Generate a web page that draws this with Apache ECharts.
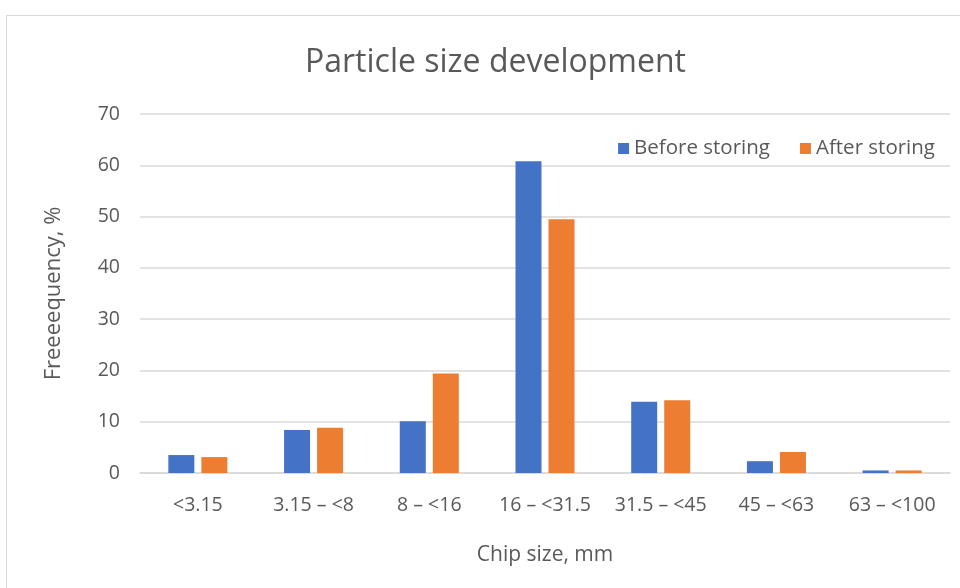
<!DOCTYPE html>
<html><head><meta charset="utf-8">
<script src="https://cdn.jsdelivr.net/npm/echarts@6/dist/echarts.min.js"></script>
<style>html,body{margin:0;padding:0;background:#fff}#c{width:960px;height:588px}</style>
</head><body><div id="c"></div>
<script>
var categories = ['<3.15', '3.15 – <8', '8 – <16', '16 – <31.5', '31.5 – <45', '45 – <63', '63 – <100'];
var beforeStoring = [3.5, 8.4, 10.1, 60.8, 13.9, 2.3, 0.5];
var afterStoring = [3.1, 8.8, 19.4, 49.5, 14.2, 4.1, 0.5];
var seriesNames = ['Before storing', 'After storing'];
var yTicks = {min: 0, max: 70, interval: 10};

var font = 'Open Sans';
var chart = echarts.init(document.getElementById('c'));
chart.setOption({
  animation: false,
  textStyle: {fontFamily: font},
  graphic: [{type: 'rect', shape: {x: 6.5, y: 15.5, width: 1000, height: 700}, style: {fill: 'none', stroke: '#d9d9d9', lineWidth: 1}, z: -1}],
  title: {text: 'Particle size development', left: 300, top: 42,
    textStyle: {fontFamily: font, fontSize: 32, fontWeight: 'normal', color: '#595959'}},
  legend: {data: seriesNames, right: 20, top: 133, itemWidth: 11, itemHeight: 11, itemGap: 30,
    icon: 'rect', textStyle: {fontFamily: font, fontSize: 20.5, color: '#595959'}},
  grid: {left: 140, right: 10, top: 114, bottom: 115},
  xAxis: {type: 'category', data: categories, name: 'Chip size, mm', nameLocation: 'middle', nameGap: 72,
    nameTextStyle: {fontFamily: font, fontSize: 21, color: '#595959'},
    axisLine: {lineStyle: {color: '#d9d9d9', width: 1.5}}, axisTick: {show: false},
    axisLabel: {fontFamily: font, fontSize: 19.5, color: '#595959', margin: 22, interval: 0}},
  yAxis: {type: 'value', min: yTicks.min, max: yTicks.max, interval: yTicks.interval,
    name: 'Freeeequency, %', nameLocation: 'middle', nameGap: 75, nameRotate: 90,
    nameTextStyle: {fontFamily: font, fontSize: 22, color: '#595959'},
    axisLine: {show: false}, axisTick: {show: false},
    axisLabel: {fontFamily: font, fontSize: 19.5, color: '#595959', margin: 20},
    splitLine: {lineStyle: {color: '#d9d9d9', width: 1.5}}},
  series: [
    {name: seriesNames[0], type: 'bar', data: beforeStoring, barWidth: 26, barGap: '27%', itemStyle: {color: '#4472c4'}},
    {name: seriesNames[1], type: 'bar', data: afterStoring, barWidth: 26, itemStyle: {color: '#ed7d31'}}
  ]
});
</script></body></html>
